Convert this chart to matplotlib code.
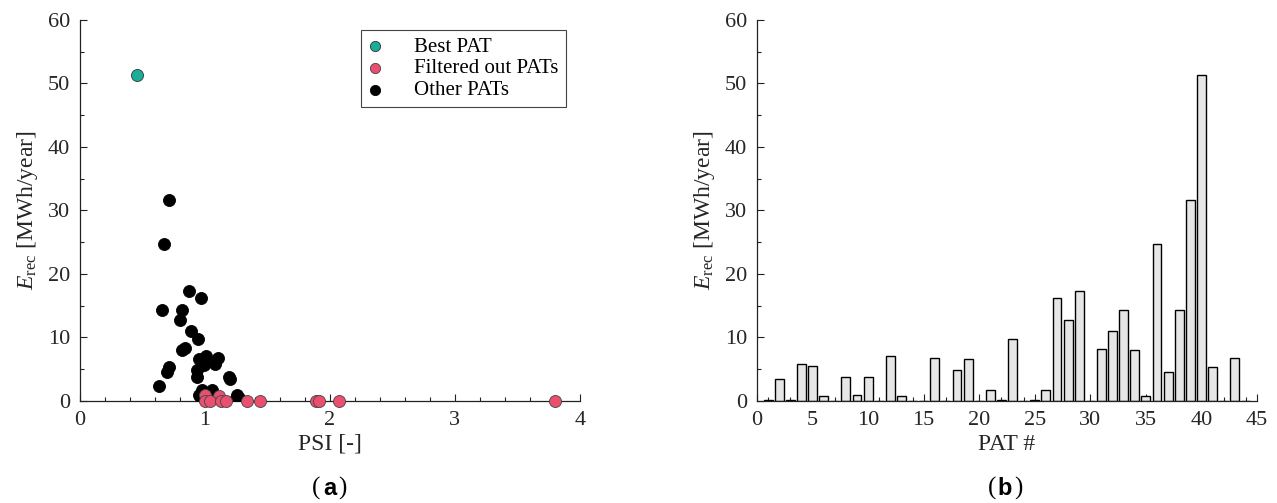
import numpy as np
import matplotlib
matplotlib.use('Agg')
import matplotlib.pyplot as plt
from matplotlib.ticker import MultipleLocator

plt.rcParams['font.family'] = ['Liberation Serif', 'DejaVu Serif']
plt.rcParams['mathtext.fontset'] = 'custom'
plt.rcParams['mathtext.rm'] = 'Liberation Serif'
plt.rcParams['mathtext.it'] = 'Liberation Serif:italic'

# (a) PSI vs recovered energy
psi_best = [0.456]
e_best = [51.4]

psi_filtered = [1.00, 1.11, 1.00, 1.04, 1.13, 1.165, 1.34, 1.44, 1.89, 1.91, 2.07, 3.80]
e_filtered = [0.9, 0.8, 0.0, 0.0, 0.0, 0.0, 0.0, 0.0, 0.0, 0.0, 0.0, 0.0]

psi_other = [0.71, 0.675, 0.872, 0.965, 0.656, 0.816, 0.80, 0.885, 0.947, 0.837,
             0.813, 1.01, 1.107, 0.955, 1.083, 0.99, 0.71, 0.933, 0.70, 1.19,
             1.20, 0.94, 0.63, 0.98, 1.06, 0.95, 1.26, 1.27, 1.24, 1.28, 0.96]
e_other = [31.6, 24.7, 17.3, 16.2, 14.4, 14.3, 12.8, 11.0, 9.7, 8.3,
           8.0, 7.1, 6.8, 6.6, 5.9, 5.6, 5.4, 4.9, 4.5, 3.8,
           3.4, 3.8, 2.4, 1.8, 1.8, 0.9, 1.0, 0.5, 0.1, 0.1, 0.8]

# (b) recovered energy per PAT
pat_id = np.arange(1, 45)
e_rec = [0.1, 3.4, 0.1, 5.8, 5.5, 0.8, 0.0, 3.8, 0.9, 3.8,
         0.0, 7.1, 0.8, 0.0, 0.0, 6.8, 0.0, 4.9, 6.6, 0.0,
         1.7, 0.1, 9.7, 0.0, 0.1, 1.7, 16.2, 12.7, 17.3, 0.0,
         8.2, 11.0, 14.3, 8.0, 0.8, 24.7, 4.5, 14.4, 31.6, 51.4,
         5.4, 0.0, 6.8, 0.0]

teal = '#1aae98'
pink = '#e9506f'
txt = '#262626'
fs = 16

fig = plt.figure(figsize=(12.77, 5.03), dpi=100)
ax1 = fig.add_axes([0.0626, 0.2028, 0.3915, 0.7575])
ax2 = fig.add_axes([0.5928, 0.2028, 0.3915, 0.7575])

ax1.scatter(psi_best, e_best, s=75, c=teal, edgecolors='#333333', linewidths=0.6,
            label='Best PAT', zorder=3)
ax1.scatter(psi_other, e_other, s=75, c='black', edgecolors='black', linewidths=0.6,
            label='Other PATs', zorder=3)
ax1.scatter(psi_filtered, e_filtered, s=75, c=pink, edgecolors='#444444', linewidths=0.6,
            label='Filtered out PATs', zorder=4, clip_on=False)

h, l = ax1.get_legend_handles_labels()
order = [0, 2, 1]
leg = ax1.legend([h[i] for i in order], [l[i] for i in order],
                 loc='upper right', bbox_to_anchor=(0.972, 0.974),
                 borderaxespad=0, fontsize=15, fancybox=False,
                 edgecolor='#444444', framealpha=1, markerscale=0.85,
                 handlelength=0.6, handletextpad=1.6, borderpad=0.35,
                 labelspacing=0.1)
leg.get_frame().set_linewidth(0.8)

ax1.set_xlim(0, 4)
ax1.set_ylim(0, 60)
ax1.xaxis.set_major_locator(MultipleLocator(1))
ax1.xaxis.set_minor_locator(MultipleLocator(0.2))
ax1.set_xlabel('PSI [-]', fontsize=17, color=txt, labelpad=3)

ax2.bar(pat_id, e_rec, width=0.8, color='#e6e6e6', edgecolor='black', linewidth=1.0,
        zorder=2)
ax2.set_xlim(0, 45)
ax2.set_ylim(0, 60)
ax2.xaxis.set_major_locator(MultipleLocator(5))
ax2.xaxis.set_minor_locator(MultipleLocator(1))
ax2.set_xlabel('PAT #', fontsize=17, color=txt, labelpad=3)

for ax in (ax1, ax2):
    ax.yaxis.set_major_locator(MultipleLocator(10))
    ax.yaxis.set_minor_locator(MultipleLocator(5))
    ax.spines['top'].set_visible(False)
    ax.spines['right'].set_visible(False)
    for s in ('left', 'bottom'):
        ax.spines[s].set_linewidth(0.9)
        ax.spines[s].set_color('#222222')
    ax.tick_params(which='both', direction='in', colors='#222222',
                   labelcolor=txt, labelsize=fs)
    ax.tick_params(which='major', length=5, width=0.8, pad=7)
    ax.tick_params(which='minor', length=3, width=0.8)
    ax.set_ylabel(r'$E_{\mathrm{rec}}$ [MWh/year]', fontsize=17, color=txt,
                  labelpad=6)

# panel tags: plain parentheses around a bold sans letter
for xc, letter in ((0.258, 'a'), (0.787, 'b')):
    fig.text(xc, 0.028, letter, ha='center', va='center', fontsize=17,
             family=['Liberation Sans', 'DejaVu Sans'], fontweight='bold',
             color='black')
    fig.text(xc - 0.0105, 0.028, '(', ha='center', va='center', fontsize=18,
             color='black')
    fig.text(xc + 0.0105, 0.028, ')', ha='center', va='center', fontsize=18,
             color='black')

fig.savefig('out.png', dpi=100)
